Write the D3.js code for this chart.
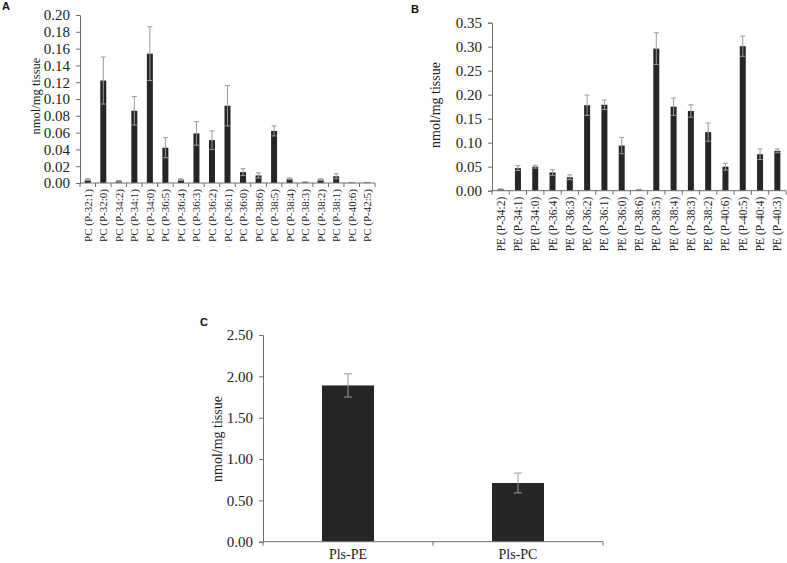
<!DOCTYPE html>
<html><head><meta charset="utf-8">
<script src="https://cdn.jsdelivr.net/npm/d3@7"></script>
<style>body{margin:0;background:#fff}svg{display:block}</style>
</head><body>
<script>
// Panel A
const catsA = ["PC (P-32:1)","PC (P-32:0)","PC (P-34:2)","PC (P-34:1)","PC (P-34:0)","PC (P-36:5)","PC (P-36:4)","PC (P-36:3)","PC (P-36:2)","PC (P-36:1)","PC (P-36:0)","PC (P-38:6)","PC (P-38:5)","PC (P-38:4)","PC (P-38:3)","PC (P-38:2)","PC (P-38:1)","PC (P-40:6)","PC (P-42:5)"];
const valsA = [0.004,0.122,0.002,0.086,0.154,0.042,0.004,0.059,0.051,0.092,0.013,0.009,0.062,0.005,0.001,0.004,0.008,0.0005,0.0005];
const errsA = [0.001,0.028,0.001,0.017,0.032,0.012,0.001,0.014,0.011,0.024,0.004,0.003,0.006,0.001,0.0005,0.001,0.003,0.0002,0.0002];
const ticksA = [0,0.02,0.04,0.06,0.08,0.10,0.12,0.14,0.16,0.18,0.20];
// Panel B
const catsB = ["PE (P-34:2)","PE (P-34:1)","PE (P-34:0)","PE (P-36:4)","PE (P-36:3)","PE (P-36:2)","PE (P-36:1)","PE (P-36:0)","PE (P-38:6)","PE (P-38:5)","PE (P-38:4)","PE (P-38:3)","PE (P-38:2)","PE (P-40:6)","PE (P-40:5)","PE (P-40:4)","PE (P-40:3)"];
const valsB = [0.003,0.047,0.050,0.038,0.028,0.178,0.179,0.094,0.002,0.296,0.175,0.166,0.122,0.050,0.301,0.076,0.083];
const errsB = [0.001,0.005,0.003,0.006,0.005,0.021,0.010,0.017,0.001,0.033,0.018,0.013,0.019,0.007,0.021,0.011,0.004];
const ticksB = [0,0.05,0.10,0.15,0.20,0.25,0.30,0.35];
// Panel C
const catsC = ["Pls-PE","Pls-PC"];
const valsC = [1.89,0.71];
const errsC = [0.14,0.12];
const ticksC = [0,0.5,1.0,1.5,2.0,2.5];

const W = 787, H = 563;
const svg = d3.select("body").append("svg").attr("width", W).attr("height", H);
const serif = "'Liberation Serif','Times New Roman',serif";
const axisColor = "#6e6e6e";
const barColor = "#262626";
const errColor = "#9a9a9a";

function panel(o) {
  const g = svg.append("g");
  const x = d3.scaleBand().domain(o.cats).range([o.x0, o.x1]).paddingInner(0).paddingOuter(0);
  const y = d3.scaleLinear().domain([0, o.ymax]).range([o.y0, o.y1]);
  // y axis
  const ya = d3.axisLeft(y).tickValues(o.ticks).tickFormat(d3.format(".2f")).tickSizeOuter(0).tickSize(4).tickPadding(o.tickPad);
  const yg = g.append("g").attr("transform", `translate(${o.x0},0)`).call(ya);
  yg.attr("font-family", serif).attr("font-size", o.tickFont);
  yg.select(".domain").attr("stroke", axisColor);
  yg.selectAll(".tick line").attr("stroke", axisColor);
  yg.selectAll("text").attr("fill", "#222");
  // bars
  g.selectAll("rect.bar").data(o.vals).enter().append("rect")
    .attr("x", (d, i) => x(o.cats[i]) + (x.bandwidth() - o.barW) / 2)
    .attr("width", o.barW)
    .attr("y", d => y(d))
    .attr("height", d => y(0) - y(d))
    .attr("fill", barColor);
  // error bars
  o.vals.forEach((v, i) => {
    const cx = x(o.cats[i]) + x.bandwidth() / 2;
    const e = o.errs[i];
    const top = y(v + e), bot = y(Math.max(0, v - e));
    g.append("line").attr("x1", cx).attr("x2", cx).attr("y1", top).attr("y2", bot).attr("stroke", errColor).attr("stroke-width", 1);
    [top, bot].forEach(yy => g.append("line").attr("x1", cx - o.cap).attr("x2", cx + o.cap).attr("y1", yy).attr("y2", yy).attr("stroke", errColor).attr("stroke-width", 1));
  });
  // x axis
  g.append("line").attr("x1", o.x0).attr("x2", o.x1).attr("y1", y(0)).attr("y2", y(0)).attr("stroke", axisColor);
  const bounds = o.cats.map(c => x(c)).concat([o.x1]);
  g.selectAll("line.xt").data(bounds).enter().append("line")
    .attr("x1", d => d).attr("x2", d => d).attr("y1", y(0)).attr("y2", y(0) + 4).attr("stroke", axisColor);
  // x labels
  if (o.rotate) {
    g.selectAll("text.xl").data(o.cats).enter().append("text")
      .attr("transform", d => `translate(${x(d) + x.bandwidth() / 2 + 4},${y(0) + o.labelGap}) rotate(-90)`)
      .attr("text-anchor", "end")
      .attr("font-family", serif).attr("font-size", o.labelFont).attr("fill", "#222")
      .text(d => d);
  } else {
    g.selectAll("text.xl").data(o.cats).enter().append("text")
      .attr("x", d => x(d) + x.bandwidth() / 2).attr("y", y(0) + o.labelGap)
      .attr("text-anchor", "middle")
      .attr("font-family", serif).attr("font-size", o.labelFont).attr("fill", "#222")
      .text(d => d);
  }
  // y title
  g.append("text").attr("transform", `translate(${o.titleX},${o.titleY}) rotate(-90)`)
    .attr("text-anchor", "middle").attr("font-family", serif).attr("font-size", o.titleFont).attr("fill", "#222")
    .text("nmol/mg tissue");
  // panel letter
  g.append("text").attr("x", o.letterX).attr("y", o.letterY).attr("font-family", "'Liberation Sans',Arial,sans-serif")
    .attr("font-weight", "bold").attr("font-size", 11).attr("fill", "#111").text(o.letter);
}

panel({cats: catsA, vals: valsA, errs: errsA, ticks: ticksA, ymax: 0.20,
  x0: 80, x1: 375, y0: 183, y1: 15, barW: 6, cap: 2.5, tickFont: 15, tickPad: 6,
  rotate: true, labelGap: 6, labelFont: 11, titleX: 40, titleY: 96, titleFont: 12.5,
  letter: "A", letterX: 2, letterY: 10});

panel({cats: catsB, vals: valsB, errs: errsB, ticks: ticksB, ymax: 0.35,
  x0: 492, x1: 786, y0: 190.7, y1: 22.7, barW: 6, cap: 2.5, tickFont: 15, tickPad: 6,
  rotate: true, labelGap: 6, labelFont: 11.5, titleX: 440, titleY: 105, titleFont: 14,
  letter: "B", letterX: 411, letterY: 13});

panel({cats: catsC, vals: valsC, errs: errsC, ticks: ticksC, ymax: 2.5,
  x0: 263, x1: 603, y0: 541.7, y1: 335, barW: 52, cap: 4, tickFont: 15, tickPad: 6,
  rotate: false, labelGap: 17, labelFont: 14, titleX: 222, titleY: 439, titleFont: 14,
  letter: "C", letterX: 200, letterY: 326});
</script>
</body></html>
